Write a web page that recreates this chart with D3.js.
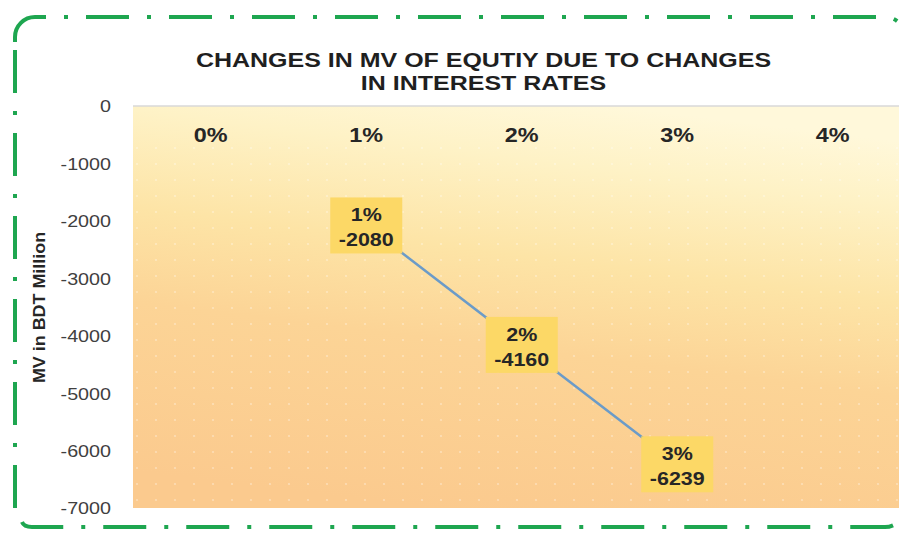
<!DOCTYPE html>
<html><head><meta charset="utf-8">
<script src="https://cdn.jsdelivr.net/npm/d3@7"></script>
<style>
html,body{margin:0;padding:0;background:#fff;}
svg{display:block;font-family:"Liberation Sans",Arial,sans-serif;}
</style></head>
<body>
<svg id="chart" width="899" height="538"></svg>
<script>
const categories = ["0%", "1%", "2%", "3%", "4%"];
const values = [null, -2080, -4160, -6239, null];
const yTicks = [0, -1000, -2000, -3000, -4000, -5000, -6000, -7000];
const titleLines = ["CHANGES IN MV OF EQUTIY DUE TO CHANGES", "IN INTEREST RATES"];
const yAxisTitle = "MV in BDT Million";

const svg = d3.select("#chart");
const plot = {left: 133, top: 106, bottom: 508, band: 155.5};

const x = d3.scaleBand().domain(categories)
  .range([plot.left, plot.left + plot.band * categories.length]).padding(0);
const y = d3.scaleLinear().domain([-7000, 0]).range([plot.bottom, plot.top]);

const defs = svg.append("defs");
const grad = defs.append("linearGradient").attr("id", "bg")
  .attr("x1", 0.62).attr("y1", 0).attr("x2", 0.38).attr("y2", 1);
[[0, "#fff8da"], [0.15, "#fef2c6"], [0.38, "#fde4a6"], [0.6, "#fcd496"], [1, "#fbca8e"]]
  .forEach(([o, c]) => grad.append("stop").attr("offset", o).attr("stop-color", c));
const pat = defs.append("pattern").attr("id", "dots").attr("patternUnits", "userSpaceOnUse")
  .attr("width", 19).attr("height", 16);
pat.append("circle").attr("cx", 4).attr("cy", 4).attr("r", 1.1).attr("fill", "#fff").attr("opacity", 0.35);

const [x0, x1] = x.range();
svg.append("rect").attr("x", x0).attr("y", plot.top).attr("width", x1 - x0)
  .attr("height", plot.bottom - plot.top).attr("fill", "url(#bg)");
svg.append("rect").attr("x", x0).attr("y", plot.top + 40).attr("width", x1 - x0)
  .attr("height", plot.bottom - plot.top - 40).attr("fill", "url(#dots)");

// category axis line at 0
svg.append("line").attr("x1", x0).attr("x2", x1).attr("y1", y(0)).attr("y2", y(0))
  .attr("stroke", "#d9d9d9").attr("stroke-width", 1.5);

// y axis
const yAxis = d3.axisLeft(y).tickValues(yTicks).tickSize(0).tickPadding(0).tickFormat(d => String(d));
const gy = svg.append("g").attr("transform", `translate(${111},0)`).call(yAxis);
gy.select(".domain").remove();
gy.selectAll("text").attr("font-size", 17).attr("fill", "#404040")
  .attr("font-family", "'Liberation Sans',Arial,sans-serif").attr("dy", "0.35em")
  .attr("transform", "scale(1.16,1)");

// category labels at top
const xAxis = d3.axisTop(x).tickSize(0).tickPadding(0);
const gx = svg.append("g").attr("transform", `translate(0,${142})`).call(xAxis);
gx.select(".domain").remove();
gx.selectAll("text").attr("font-size", 20).attr("font-weight", "bold").attr("fill", "#262626")
  .attr("font-family", "'Liberation Sans',Arial,sans-serif").attr("dy", 0)
  .attr("transform", "scale(1.17,1)");

// line
const pts = categories.map((c, i) => ({c, v: values[i]}));
const line = d3.line().defined(d => d.v !== null)
  .x(d => x(d.c) + x.bandwidth() / 2).y(d => y(d.v));
svg.append("path").datum(pts).attr("d", line).attr("fill", "none")
  .attr("stroke", "#6b9bc8").attr("stroke-width", 2.5);

// data labels
const lab = svg.append("g").selectAll("g").data(pts.filter(d => d.v !== null)).join("g")
  .attr("transform", d => `translate(${x(d.c) + x.bandwidth() / 2},${y(d.v)})`);
lab.append("rect").attr("x", -36).attr("y", -28).attr("width", 72).attr("height", 56)
  .attr("fill", "#fcd866");
lab.append("text").attr("text-anchor", "middle").attr("transform", "translate(0,-4) scale(1.13,1)")
  .attr("font-size", 19).attr("font-weight", "bold").attr("fill", "#262626").text(d => d.c);
lab.append("text").attr("text-anchor", "middle").attr("transform", "translate(0,21) scale(1.13,1)")
  .attr("font-size", 19).attr("font-weight", "bold").attr("fill", "#262626").text(d => d.v);

// title
svg.append("g").selectAll("text").data(titleLines).join("text")
  .attr("transform", (d, i) => `translate(483.5,${67 + i * 22.6}) scale(1.19,1)`)
  .attr("text-anchor", "middle")
  .attr("font-size", 21).attr("font-weight", "bold").attr("fill", "#1f1f1f").text(d => d);

// y axis title
svg.append("text").attr("transform", "translate(45,307.5) rotate(-90) scale(1.12,1)").attr("text-anchor", "middle")
  .attr("font-size", 16).attr("font-weight", "bold").attr("fill", "#262626").text(yAxisTitle);

// border (dash-dot, rounded corners)
const green = "#1ea650";
const bw = 4;
const pattern = "43 18 4 18";
const border = svg.append("g").attr("fill", "none").attr("stroke", green).attr("stroke-width", bw);
// top-left corner
border.append("path").attr("d", "M15,42 L15,37 A20,20 0 0 1 35,17 L43,17");
// top edge with top-right corner
border.append("path").attr("d", "M43,17 L885,17 A20,20 0 0 1 905,37 L905,507")
  .attr("stroke-dasharray", pattern).attr("stroke-dashoffset", 40);
// left edge
border.append("path").attr("d", "M15,42 L15,522")
  .attr("stroke-dasharray", pattern).attr("stroke-dashoffset", 75);
// bottom edge
border.append("path").attr("d", "M22,522 Q24,527 32,527 L885,527 A20,20 0 0 0 905,507")
  .attr("stroke-dasharray", pattern).attr("stroke-dashoffset", 0);
</script>
</body></html>
